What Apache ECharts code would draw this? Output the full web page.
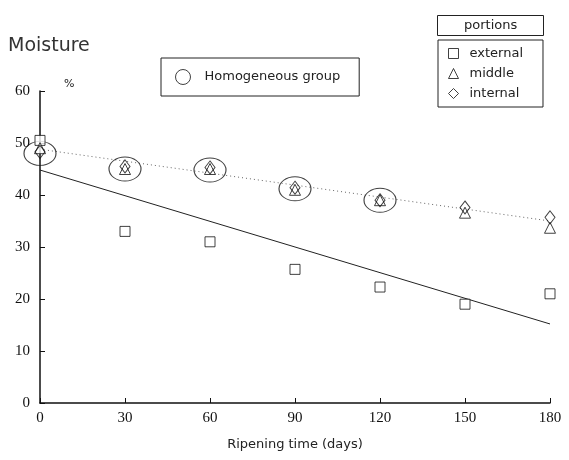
<!DOCTYPE html>
<html>
<head>
<meta charset="utf-8">
<script src="https://cdn.jsdelivr.net/npm/echarts@6/dist/echarts.min.js"></script>
<style>html,body{margin:0;padding:0;background:#fff}#c{width:569px;height:460px}</style>
</head>
<body>
<div id="c"></div>
<script>
var days = [0, 30, 60, 90, 120, 150, 180];
var external = [50.5, 33, 31, 25.7, 22.3, 19, 21];
var middle = [49, 45, 45, 41, 39, 36.6, 33.7];
var internal = [48.3, 45.5, 45.3, 41.4, 39, 37.6, 35.7];
var groupDays = [0, 30, 60, 90, 120];
var groupValues = [48, 45, 44.8, 41.2, 39];
var fitExternal = [[0, 44.8], [180, 15.2]];
var fitInner = [[0, 48.8], [180, 35.0]];
var yTicks = [0, 10, 20, 30, 40, 50, 60];
var xTicks = [0, 30, 60, 90, 120, 150, 180];

function pairs(xs, ys) { return xs.map(function (x, i) { return [x, ys[i]]; }); }

var hollow = { color: '#fff', borderColor: '#111', borderWidth: 1 };
var chart = echarts.init(document.getElementById('c'), null, { renderer: 'canvas' });
chart.setOption({
  animation: false,
  backgroundColor: '#fff',
  title: [
    { text: 'Moisture', left: 8, top: 37, padding: 0,
      textStyle: { fontFamily: 'DejaVu Sans', fontSize: 19, fontWeight: 'normal', color: '#333' } },
    { text: 'portions', left: 437, top: 15, padding: [4, 27, 4, 27], borderColor: '#222', borderWidth: 1,
      textStyle: { fontFamily: 'DejaVu Sans', fontSize: 13, fontWeight: 'normal', color: '#222' } }
  ],
  legend: [
    { data: [{ name: 'external', icon: 'rect' }, { name: 'middle', icon: 'triangle' }, { name: 'internal', icon: 'diamond' }],
      orient: 'vertical', left: 438, top: 40, itemGap: 7, itemWidth: 10, itemHeight: 10,
      padding: [7, 20, 7, 10],
      borderColor: '#222', borderWidth: 1,
      itemStyle: { borderWidth: 1 },
      textStyle: { fontFamily: 'DejaVu Sans', fontSize: 13, color: '#222', padding: [0, 0, 0, 6] } },
    { data: [{ name: 'Homogeneous group', icon: 'circle' }],
      left: 161, top: 58, itemWidth: 15, itemHeight: 15,
      padding: [11, 19, 11, 14], borderColor: '#222', borderWidth: 1,
      itemStyle: { borderWidth: 1 },
      textStyle: { fontFamily: 'DejaVu Sans', fontSize: 13, color: '#222', padding: [0, 0, 0, 9] } }
  ],
  grid: { left: 40, right: 19, top: 91, bottom: 57, containLabel: false },
  xAxis: {
    type: 'value', min: 0, max: 180, interval: 30,
    name: 'Ripening time (days)', nameLocation: 'middle', nameGap: 35,
    nameTextStyle: { fontFamily: 'DejaVu Sans', fontSize: 13, color: '#222' },
    axisLine: { lineStyle: { color: '#111', width: 1.5 } },
    axisTick: { inside: true, length: 5, lineStyle: { color: '#111' } },
    axisLabel: { fontFamily: 'Liberation Serif', fontSize: 15, color: '#111', margin: 8,
      formatter: function (v) { return xTicks.indexOf(v) >= 0 ? String(v) : ''; } },
    splitLine: { show: false }
  },
  yAxis: {
    type: 'value', min: 0, max: 60, interval: 10,
    name: '%', nameLocation: 'end', nameGap: 1,
    nameTextStyle: { fontFamily: 'DejaVu Sans', fontSize: 11, color: '#222', align: 'left', padding: [0, 0, 0, 24] },
    axisLine: { show: true, lineStyle: { color: '#111', width: 1.5 } },
    axisTick: { show: true, inside: true, length: 5, lineStyle: { color: '#111' } },
    axisLabel: { fontFamily: 'Liberation Serif', fontSize: 15, color: '#111', margin: 10,
      formatter: function (v) { return yTicks.indexOf(v) >= 0 ? String(v) : ''; } },
    splitLine: { show: false }
  },
  series: [
    { name: 'fit external', type: 'line', data: fitExternal, symbol: 'none', silent: true,
      lineStyle: { color: '#222', width: 1 }, z: 1 },
    { name: 'fit inner', type: 'line', data: fitInner, symbol: 'none', silent: true,
      lineStyle: { color: '#666', width: 1, type: [1, 3] }, z: 1 },
    { name: 'Homogeneous group', type: 'scatter', data: pairs(groupDays, groupValues),
      symbol: 'circle', symbolSize: [32, 24], itemStyle: { color: 'rgba(0,0,0,0)', borderColor: '#111', borderWidth: 1 }, z: 2 },
    { name: 'external', type: 'scatter', data: pairs(days, external), symbol: 'rect', symbolSize: 10, itemStyle: hollow, z: 3 },
    { name: 'middle', type: 'scatter', data: pairs(days, middle), symbol: 'triangle', symbolSize: 11, itemStyle: hollow, z: 4 },
    { name: 'internal', type: 'scatter', data: pairs(days, internal), symbol: 'diamond', symbolSize: [10, 13], itemStyle: { color: 'rgba(0,0,0,0)', borderColor: '#111', borderWidth: 1 }, z: 5 }
  ]
});
</script>
</body>
</html>
